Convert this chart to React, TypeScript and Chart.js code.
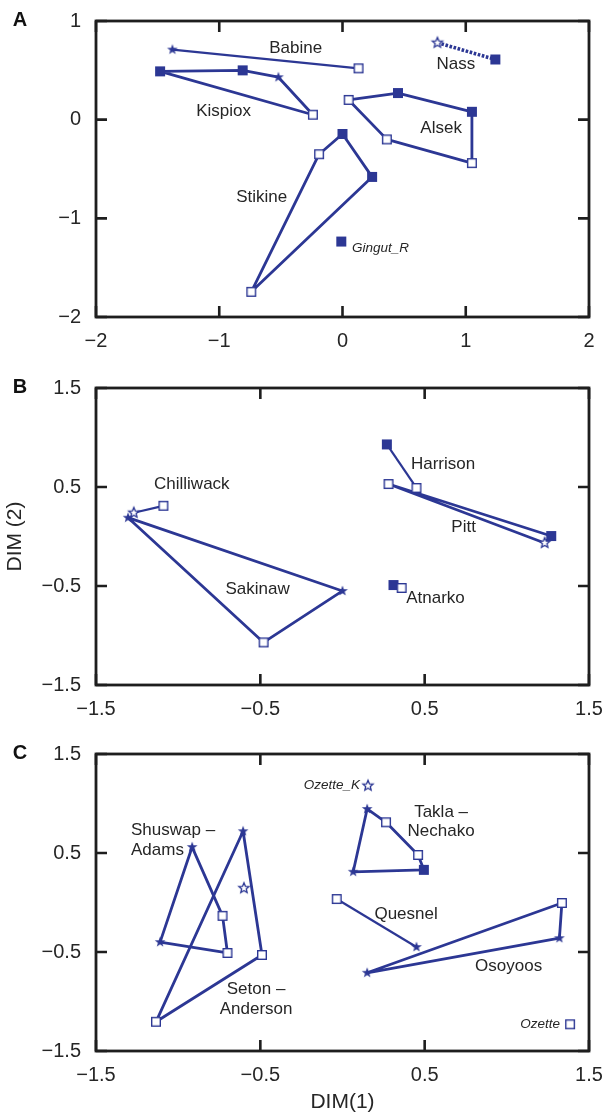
import React, { useEffect, useRef } from 'react';
import { Chart, registerables } from 'chart.js';

Chart.register(...registerables);

type Mark = 'F' | 'o' | 'S' | 's'; // filled square, open square, filled star, open star
type Pt = [number, number, Mark];
type Label = [string, number, number, 'c' | 'l' | 'r'];

// ---------- Panel A ----------
const A_X_TICKS = [-2, -1, 0, 1, 2];
const A_Y_TICKS = [-2, -1, 0, 1];
const A_BABINE: Pt[] = [[-1.38, 0.71, 'S'], [0.13, 0.52, 'o']];
const A_KISPIOX: Pt[] = [[-1.48, 0.49, 'F'], [-0.81, 0.5, 'F'], [-0.52, 0.43, 'S'], [-0.24, 0.05, 'o']];
const A_NASS: Pt[] = [[0.77, 0.78, 's'], [1.24, 0.61, 'F']];
const A_ALSEK: Pt[] = [[0.05, 0.2, 'o'], [0.45, 0.27, 'F'], [1.05, 0.08, 'F'], [1.05, -0.44, 'o'], [0.36, -0.2, 'o']];
const A_STIKINE: Pt[] = [[-0.74, -1.745, 'o'], [-0.19, -0.35, 'o'], [0.0, -0.145, 'F'], [0.24, -0.58, 'F']];
const A_GINGUT: Pt[] = [[-0.01, -1.235, 'F']];
const A_LABELS: Label[] = [
  ['Babine', -0.38, 0.725, 'c'],
  ['Kispiox', -0.965, 0.083, 'c'],
  ['Nass', 0.92, 0.56, 'c'],
  ['Alsek', 0.8, -0.085, 'c'],
  ['Stikine', -0.655, -0.783, 'c'],
];
const A_SITES: Label[] = [['Gingut_R', 0.077, -1.3, 'l']];

// ---------- Panel B ----------
const BC_TICKS = [-1.5, -0.5, 0.5, 1.5];
const B_CHILLIWACK: Pt[] = [[-1.27, 0.24, 's'], [-1.09, 0.31, 'o']];
const B_SAKINAW: Pt[] = [[-1.305, 0.19, 'S'], [0.0, -0.55, 'S'], [-0.48, -1.07, 'o']];
const B_HARRISON: Pt[] = [[0.27, 0.93, 'F'], [0.45, 0.49, 'o']];
const B_PITT: Pt[] = [[0.28, 0.53, 'o'], [1.27, 0.005, 'F'], [1.23, -0.065, 's']];
const B_ATNARKO: Pt[] = [[0.31, -0.49, 'F'], [0.36, -0.52, 'o']];
const B_LABELS: Label[] = [
  ['Chilliwack', -0.917, 0.525, 'c'],
  ['Sakinaw', -0.517, -0.535, 'c'],
  ['Harrison', 0.612, 0.727, 'c'],
  ['Pitt', 0.737, 0.096, 'c'],
  ['Atnarko', 0.566, -0.626, 'c'],
];

// ---------- Panel C ----------
const C_SHUSWAP: Pt[] = [[-0.915, 0.56, 'S'], [-0.73, -0.135, 'o'], [-0.7, -0.51, 'o'], [-1.11, -0.4, 'S']];
const C_SETON: Pt[] = [[-0.605, 0.72, 'S'], [-0.49, -0.53, 'o'], [-1.135, -1.205, 'o']];
const C_SETON_EXTRA: Pt[] = [[-0.6, 0.145, 's']];
const C_TAKLA: Pt[] = [[0.15, 0.945, 'S'], [0.265, 0.81, 'o'], [0.46, 0.48, 'o'], [0.495, 0.33, 'F'], [0.065, 0.31, 'S']];
const C_QUESNEL: Pt[] = [[-0.035, 0.035, 'o'], [0.45, -0.45, 'S']];
const C_OSOYOOS: Pt[] = [[0.15, -0.71, 'S'], [1.335, -0.005, 'o'], [1.32, -0.36, 'S']];
const C_OZETTE_K: Pt[] = [[0.155, 1.18, 's']];
const C_OZETTE: Pt[] = [[1.385, -1.23, 'o']];
const C_LABELS: Label[] = [
  ['Shuswap \u2013', -1.287, 0.725, 'l'],
  ['Adams', -1.287, 0.523, 'l'],
  ['Seton \u2013', -0.526, -0.874, 'c'],
  ['Anderson', -0.526, -1.076, 'c'],
  ['Takla \u2013', 0.6, 0.914, 'c'],
  ['Nechako', 0.6, 0.715, 'c'],
  ['Quesnel', 0.387, -0.116, 'c'],
  ['Osoyoos', 1.011, -0.641, 'c'],
];
const C_SITES: Label[] = [
  ['Ozette_K', 0.107, 1.18, 'r'],
  ['Ozette', 1.324, -1.227, 'r'],
];

// ---------- styling ----------
const BLUE = '#2c3794';
const AXIS = '#1e1e1e';
const TEXT = '#262626';
const FONT = '"Liberation Sans", Arial, Helvetica, sans-serif';

interface Group { pts: Pt[]; closed?: boolean; dotted?: boolean; w?: number }
interface Panel {
  letter: string;
  top: number;
  height: number;
  padTop: number;
  xAxisH: number;
  xMin: number;
  xMax: number;
  yMin: number;
  yMax: number;
  xTicks: number[];
  yTicks: number[];
  groups: Group[];
  labels: Label[];
  sites: Label[];
  yTitle?: string;
  xTitle?: string;
}

const PANELS: Panel[] = [
  {
    letter: 'A', top: 0, height: 360, padTop: 21, xAxisH: 43, xMin: -2, xMax: 2, yMin: -2, yMax: 1,
    xTicks: A_X_TICKS, yTicks: A_Y_TICKS,
    groups: [
      { pts: A_BABINE, w: 2.2 },
      { pts: A_KISPIOX, closed: true },
      { pts: A_NASS, dotted: true },
      { pts: A_ALSEK, closed: true },
      { pts: A_STIKINE, closed: true },
      { pts: A_GINGUT },
    ],
    labels: A_LABELS, sites: A_SITES,
  },
  {
    letter: 'B', top: 360, height: 370, padTop: 28, xAxisH: 45, xMin: -1.5, xMax: 1.5, yMin: -1.5, yMax: 1.5,
    xTicks: BC_TICKS, yTicks: BC_TICKS,
    groups: [
      { pts: B_CHILLIWACK, w: 2.2 },
      { pts: B_SAKINAW, closed: true },
      { pts: B_HARRISON, w: 2.2 },
      { pts: B_PITT, closed: true },
      { pts: B_ATNARKO },
    ],
    labels: B_LABELS, sites: [], yTitle: 'DIM (2)',
  },
  {
    letter: 'C', top: 730, height: 386, padTop: 24, xAxisH: 65, xMin: -1.5, xMax: 1.5, yMin: -1.5, yMax: 1.5,
    xTicks: BC_TICKS, yTicks: BC_TICKS,
    groups: [
      { pts: C_SHUSWAP, closed: true },
      { pts: C_SETON, closed: true },
      { pts: C_SETON_EXTRA },
      { pts: C_TAKLA, closed: true },
      { pts: C_QUESNEL, w: 2.2 },
      { pts: C_OSOYOOS, closed: true },
      { pts: C_OZETTE_K },
      { pts: C_OZETTE },
    ],
    labels: C_LABELS, sites: C_SITES, xTitle: 'DIM(1)',
  },
];

function makeMarker(kind: Mark): HTMLCanvasElement {
  const c = document.createElement('canvas');
  c.width = 16;
  c.height = 16;
  const g = c.getContext('2d')!;
  g.translate(8, 8);
  if (kind === 'F') {
    g.fillStyle = BLUE;
    g.fillRect(-5, -5, 10, 10);
  } else if (kind === 'o') {
    g.fillStyle = '#ffffff';
    g.fillRect(-4.6, -4.6, 9.2, 9.2);
    g.strokeStyle = BLUE;
    g.lineWidth = 1.4;
    g.strokeRect(-4.3, -4.3, 8.6, 8.6);
  } else {
    const R = kind === 'S' ? 5.6 : 5.4;
    const r = kind === 'S' ? 2.3 : 2.4;
    g.beginPath();
    for (let i = 0; i < 10; i++) {
      const rad = i % 2 === 0 ? R : r;
      const a = -Math.PI / 2 + (i * Math.PI) / 5;
      const px = rad * Math.cos(a);
      const py = rad * Math.sin(a);
      if (i === 0) g.moveTo(px, py);
      else g.lineTo(px, py);
    }
    g.closePath();
    if (kind === 'S') {
      g.fillStyle = BLUE;
      g.fill();
    } else {
      g.fillStyle = '#ffffff';
      g.fill();
      g.strokeStyle = BLUE;
      g.lineWidth = 1.3;
      g.stroke();
    }
  }
  return c;
}

const fmt = (v: number) => (v < 0 ? '\u2212' + String(Math.abs(v)) : String(v));

function buildChart(canvas: HTMLCanvasElement, p: Panel): Chart {
  const markers: Record<Mark, HTMLCanvasElement> = {
    F: makeMarker('F'), o: makeMarker('o'), S: makeMarker('S'), s: makeMarker('s'),
  };
  const datasets: any[] = [];
  p.groups.forEach((g) => {
    if (g.pts.length < 2) return;
    const data = g.pts.map(([x, y]) => ({ x, y }));
    if (g.closed) data.push({ x: g.pts[0][0], y: g.pts[0][1] });
    datasets.push({
      data,
      showLine: true,
      borderColor: BLUE,
      borderWidth: g.dotted ? 3.6 : g.w ?? 2.8,
      borderDash: g.dotted ? [2.6, 1.6] : [],
      borderCapStyle: 'butt',
      borderJoinStyle: 'round',
      pointRadius: 0,
      fill: false,
      tension: 0,
      order: 2,
    });
  });
  (['o', 'F', 's', 'S'] as Mark[]).forEach((m) => {
    const data: { x: number; y: number }[] = [];
    p.groups.forEach((g) => g.pts.forEach(([x, y, k]) => { if (k === m) data.push({ x, y }); }));
    datasets.push({
      data,
      showLine: false,
      pointStyle: markers[m],
      pointRadius: 5,
      order: 0,
    });
  });

  const frame = {
    id: 'frame' + p.letter,
    afterDatasetsDraw(chart: any) {
      const { ctx, chartArea: a, scales } = chart;
      const xs = scales.x;
      const ys = scales.y;
      ctx.save();
      ctx.strokeStyle = AXIS;
      ctx.lineWidth = 2.8;
      ctx.lineJoin = 'miter';
      ctx.strokeRect(a.left, a.top, a.right - a.left, a.bottom - a.top);
      ctx.lineWidth = 2.6;
      ctx.beginPath();
      xs.ticks.forEach((t: any) => {
        const px = xs.getPixelForValue(t.value);
        ctx.moveTo(px, a.bottom);
        ctx.lineTo(px, a.bottom - 11);
        ctx.moveTo(px, a.top);
        ctx.lineTo(px, a.top + 11);
      });
      ys.ticks.forEach((t: any) => {
        const py = ys.getPixelForValue(t.value);
        ctx.moveTo(a.left, py);
        ctx.lineTo(a.left + 11, py);
        ctx.moveTo(a.right, py);
        ctx.lineTo(a.right - 11, py);
      });
      ctx.stroke();
      ctx.fillStyle = TEXT;
      ctx.textBaseline = 'middle';
      const drawLabels = (list: Label[], font: string) => {
        ctx.font = font;
        list.forEach(([s, x, y, al]) => {
          ctx.textAlign = al === 'c' ? 'center' : al === 'l' ? 'left' : 'right';
          ctx.fillText(s, xs.getPixelForValue(x), ys.getPixelForValue(y));
        });
      };
      drawLabels(p.labels, `17px ${FONT}`);
      drawLabels(p.sites, `italic 13.5px ${FONT}`);
      ctx.font = `bold 20px ${FONT}`;
      ctx.textAlign = 'center';
      ctx.fillStyle = '#111';
      ctx.fillText(p.letter, 20, a.top - 1);
      ctx.fillStyle = TEXT;
      ctx.font = `21px ${FONT}`;
      if (p.yTitle) {
        ctx.save();
        ctx.translate(15, (a.top + a.bottom) / 2);
        ctx.rotate(-Math.PI / 2);
        ctx.textAlign = 'center';
        ctx.fillText(p.yTitle, 0, 0);
        ctx.restore();
      }
      if (p.xTitle) {
        ctx.textAlign = 'center';
        ctx.fillText(p.xTitle, (a.left + a.right) / 2, a.bottom + 51);
      }
      ctx.restore();
    },
  };

  const tickFont = { family: FONT, size: 20 };
  return new Chart(canvas, {
    type: 'scatter',
    data: { datasets },
    options: {
      responsive: false,
      animation: false,
      events: [],
      layout: { padding: { top: p.padTop, right: 20, left: 0, bottom: 0 } },
      plugins: { legend: { display: false }, tooltip: { enabled: false } },
      scales: {
        x: {
          type: 'linear',
          min: p.xMin,
          max: p.xMax,
          afterBuildTicks: (s: any) => { s.ticks = p.xTicks.map((v) => ({ value: v })); },
          afterFit: (s: any) => {
            s.height = p.xAxisH;
            s.paddingLeft = 0;
            s.paddingRight = 0;
          },
          grid: { display: false, drawTicks: false },
          border: { display: false },
          ticks: { font: tickFont, color: TEXT, padding: 12, maxRotation: 0, autoSkip: false, callback: (v: any) => fmt(Number(v)) },
        },
        y: {
          type: 'linear',
          min: p.yMin,
          max: p.yMax,
          afterBuildTicks: (s: any) => { s.ticks = p.yTicks.map((v) => ({ value: v })); },
          afterFit: (s: any) => {
            s.width = 96;
            s.paddingTop = 0;
            s.paddingBottom = 0;
          },
          grid: { display: false, drawTicks: false },
          border: { display: false },
          ticks: { font: tickFont, color: TEXT, padding: 15, autoSkip: false, callback: (v: any) => fmt(Number(v)) },
        },
      },
    } as any,
    plugins: [frame],
  });
}

export default function App() {
  const refs = [useRef<HTMLCanvasElement>(null), useRef<HTMLCanvasElement>(null), useRef<HTMLCanvasElement>(null)];
  useEffect(() => {
    const charts = PANELS.map((p, i) => buildChart(refs[i].current!, p));
    return () => charts.forEach((c) => c.destroy());
  }, []);
  return (
    <div style={{ position: 'absolute', left: 0, top: 0, width: 609, height: 1116, background: '#fff' }}>
      {PANELS.map((p, i) => (
        <canvas
          key={p.letter}
          ref={refs[i]}
          width={609}
          height={p.height}
          style={{ position: 'absolute', left: 0, top: p.top, width: 609, height: p.height }}
        />
      ))}
    </div>
  );
}
